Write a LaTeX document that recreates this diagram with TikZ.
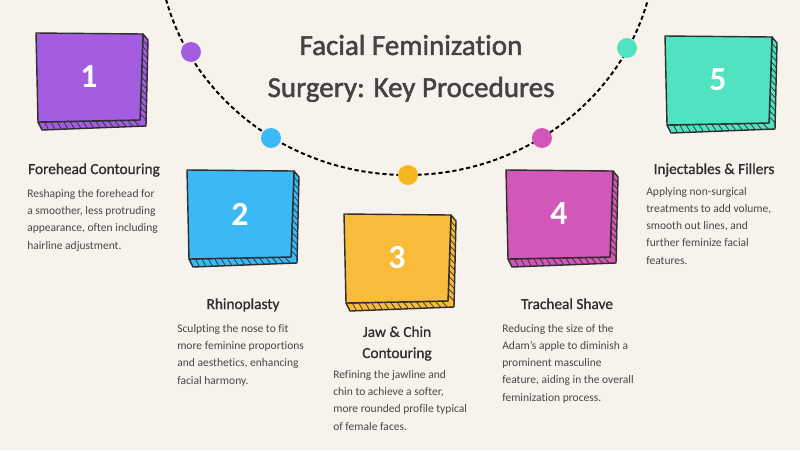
\documentclass[tikz,border=0pt]{standalone}
\usepackage{fontspec}
\setmainfont{Carlito}[Ligatures=NoCommon]
\newfontfamily\titlefont{Carlito}[Ligatures=NoCommon, FakeBold=1.6]
\newfontfamily\headfont{Carlito}[Ligatures=NoCommon, FakeBold=0.9]
\usepackage{xcolor}

\definecolor{paper}{HTML}{F8F2EC}
\definecolor{ink}{HTML}{2E2E2E}
\definecolor{bodygray}{HTML}{474747}
\definecolor{boxpurple}{HTML}{A45DE0}
\definecolor{boxblue}{HTML}{3BB9F6}
\definecolor{boxyellow}{HTML}{F8BB3A}
\definecolor{boxpink}{HTML}{D257B8}
\definecolor{boxteal}{HTML}{4FE3C1}
\definecolor{dotyellow}{HTML}{F4B81C}

% one numbered card: #1 number, #2 x, #3 y, #4 fill colour
\newcommand{\stepcard}[4]{%
  \begin{scope}[shift={(#2,#3)}]
    \filldraw[boxline, fill=#4] (107,1) -- (112,7) -- (110,93) -- (6,97) -- (2,89) -- (104,87) -- cycle;
    \foreach \t in {1,...,13}
      \draw[hatchline] ({107-3*\t/14},{1+86*\t/14}) -- ({112-2*\t/14},{7+86*\t/14});
    \foreach \t in {1,...,15}
      \draw[hatchline] ({2+102*\t/16},{89-2*\t/16}) -- ({6+104*\t/16},{97-4*\t/16});
    \filldraw[boxline, fill=#4] (0,0) -- (107,1) -- (104,87) -- (2,89) -- cycle;
    \node[numtext] (num#1) at (53,44) {#1};
  \end{scope}}

\begin{document}
\begin{tikzpicture}[x=0.025cm, y=-0.025cm,
    boxline/.style={draw=ink, line width=1pt, line join=round},
    hatchline/.style={draw=ink, line width=0.5pt},
    numtext/.style={text=white, font=\bfseries\fontsize{24}{26}\selectfont, inner sep=0},
    dot/.style={circle, minimum size=14.2pt, inner sep=0},
    titletext/.style={text=ink!90, font=\titlefont\fontsize{20.6}{29.9}\selectfont, align=center, inner sep=0},
    heading/.style={text=ink, font=\headfont\fontsize{10.9}{15}\selectfont, align=center, inner sep=0},
    bodytext/.style={text=bodygray, font=\fontsize{8.2}{12.1}\selectfont, align=left, inner sep=0}]

        % Background
        \fill[paper] (0,0) rectangle (800,450);
        \useasboundingbox (0,0) rectangle (800,450);
        \clip (0,0) rectangle (800,450);

        % Dashed arc
        \draw[line width=1.4pt, dash pattern=on 3pt off 2pt] (656,-60) arc[start angle=0, end angle=180, x radius=249, y radius=235];

        % Dots on the arc
        \node[dot, fill=boxpurple] (dot1) at (191,52) {};
        \node[dot, fill=boxblue] (dot2) at (271,138) {};
        \node[dot, fill=dotyellow] (dot3) at (408,175) {};
        \node[dot, fill=boxpink] (dot4) at (542,138) {};
        \node[dot, fill=boxteal] (dot5) at (627,48) {};

        % Title (base = last line)
        \node[titletext, anchor=base] (title) at (411,97) {Facial Feminization\\Surgery: Key Procedures};

        % Cards
        \stepcard{1}{36}{33}{boxpurple}
        \stepcard{2}{187}{170}{boxblue}
        \stepcard{3}{344}{214}{boxyellow}
        \stepcard{4}{506}{170}{boxpink}
        \stepcard{5}{665}{36}{boxteal}

        % Headings
        \node[heading, anchor=base] (head1) at (94,174) {Forehead Contouring};
        \node[heading, anchor=base] (head2) at (243,309) {Rhinoplasty};
        \node[heading, anchor=base] (head3) at (397,358) {Jaw \& Chin\\Contouring};
        \node[heading, anchor=base] (head4) at (567,309) {Tracheal Shave};
        \node[heading, anchor=base] (head5) at (714,174) {Injectables \& Fillers};

        % Descriptions (base = last line)
        \node[bodytext, anchor=base west] (desc1) at (27,249) {Reshaping the forehead for\\a smoother, less protruding\\appearance, often including\\hairline adjustment.};
        \node[bodytext, anchor=base west] (desc2) at (177,384) {Sculpting the nose to fit\\more feminine proportions\\and aesthetics, enhancing\\facial harmony.};
        \node[bodytext, anchor=base west] (desc3) at (333,430) {Refining the jawline and\\chin to achieve a softer,\\more rounded profile typical\\of female faces.};
        \node[bodytext, anchor=base west] (desc4) at (502,401) {Reducing the size of the\\Adam's apple to diminish a\\prominent masculine\\feature, aiding in the overall\\feminization process.};
        \node[bodytext, anchor=base west] (desc5) at (646,264) {Applying non-surgical\\treatments to add volume,\\smooth out lines, and\\further feminize facial\\features.};

\end{tikzpicture}
\end{document}
